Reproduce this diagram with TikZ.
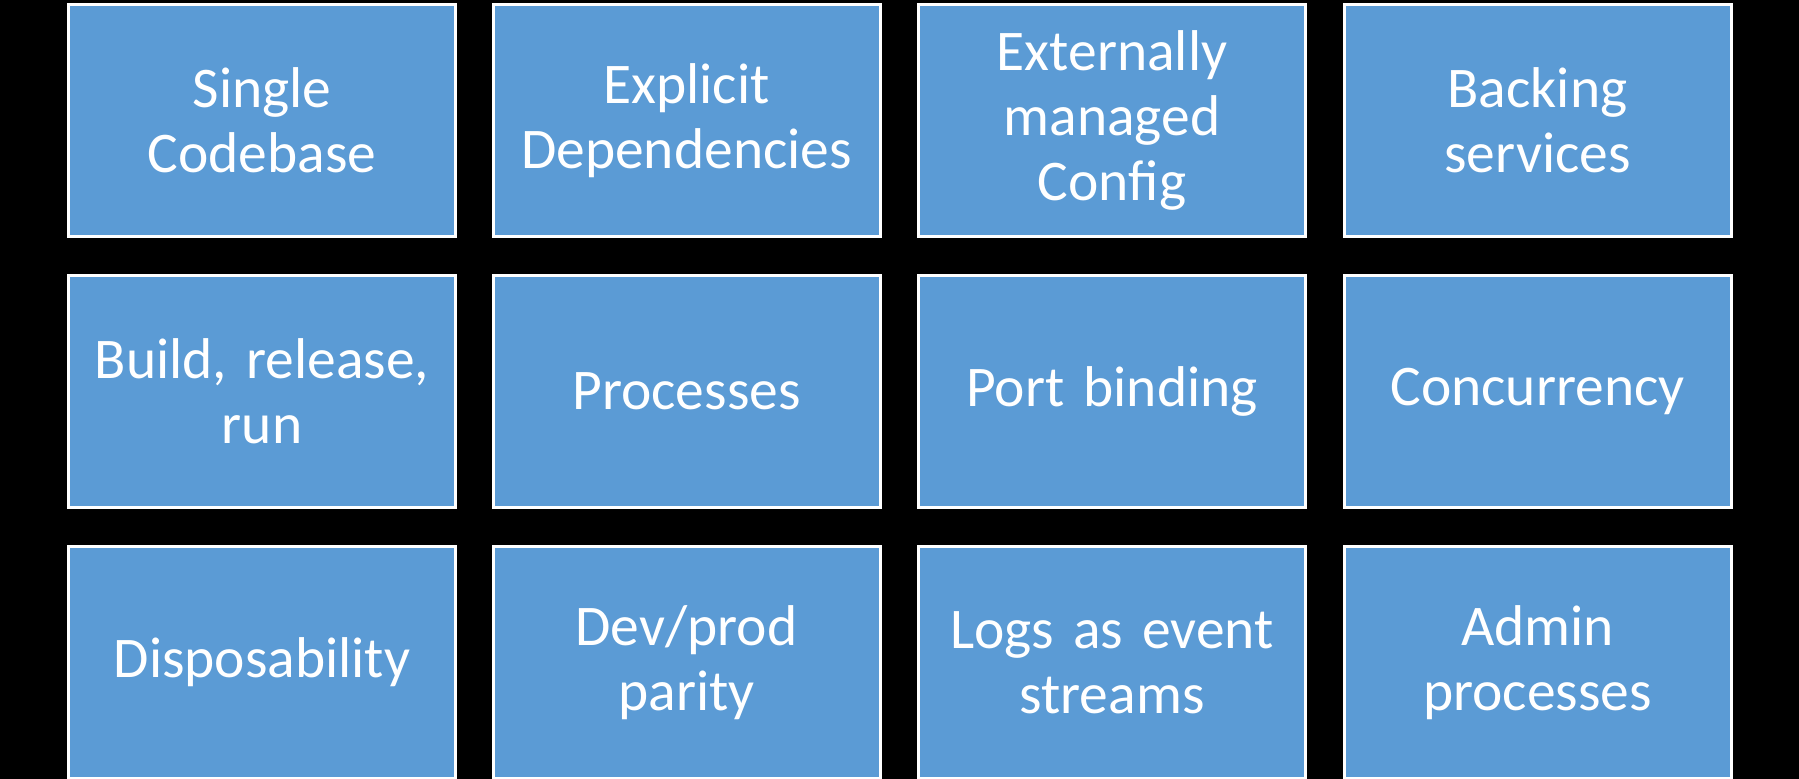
\documentclass[tikz,border=0pt]{standalone}
\usepackage{fontspec}
\setmainfont{Carlito}
\definecolor{tileblue}{HTML}{5B9BD5}
\begin{document}
\begin{tikzpicture}[x=1pt,y=-1pt,
  tile/.style={draw=white, line width=3pt, fill=tileblue, text=white,
    minimum width=387pt, minimum height=232pt, inner sep=0pt,
    text width=375pt, align=center,
    font=\fontsize{57.5}{65}\selectfont}]
\fill[black] (0,0) rectangle (1799,779);
\useasboundingbox (0,0) rectangle (1799,779);
\node[tile] (a1) at (262,120.5) {Single\\Codebase};
\node[tile] (a2) at (686.5,120.5) {Explicit\\Dependencies};
\node[tile] (a3) at (1112,120.5) {Externally\\managed\\Config};
\node[tile] (a4) at (1537.5,120.5) {Backing\\services};
\node[tile] (b1) at (262,391.5) {Build, release,\\run};
\node[tile] (b2) at (686.5,391.5) {Processes};
\node[tile] (b3) at (1112,391.5) {Port binding};
\node[tile] (b4) at (1537.5,391.5) {Concurrency};
\node[tile] (c1) at (262,662.5) {Disposability};
\node[tile] (c2) at (686.5,662.5) {Dev/prod\\parity};
\node[tile] (c3) at (1112,662.5) {Logs as event\\streams};
\node[tile] (c4) at (1537.5,662.5) {Admin\\processes};
\end{tikzpicture}
\end{document}
